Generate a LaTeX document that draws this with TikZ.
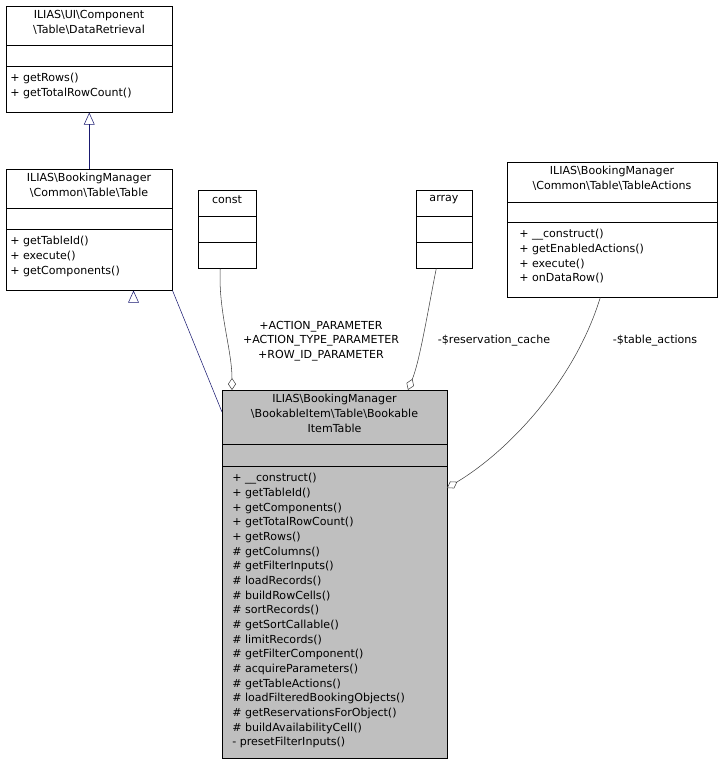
\documentclass[tikz,border=0pt]{standalone}
\usepackage{fontspec}
\setmainfont{DejaVu Sans}
\usetikzlibrary{arrows.meta}
\definecolor{dNavy}{HTML}{191970}
\definecolor{dGray}{HTML}{404040}
\begin{document}
\begin{tikzpicture}[x=0.75pt,y=-0.75pt,font=\fontsize{8.3}{11}\selectfont]
		\tikzstyle{BOX} = [draw, anchor=north west, inner sep=0pt]
		\tikzstyle{title} = [align=center, inner sep=0pt, anchor=north]
		\tikzstyle{ops} = [align=left, inner sep=0pt, anchor=north west]
		\tikzstyle{inherit} = [draw=dNavy, -{Triangle[open, length=9pt, width=8pt]}]
		\tikzstyle{member} = [draw=dGray, -{Diamond[open, length=9pt, width=6pt]}]
		\useasboundingbox (0,0) rectangle (722,765);

		% DataRetrieval
		\node[BOX, minimum width=166*0.75pt, minimum height=106*0.75pt] (dr) at (6,6) {};
		\node[title] (drT) at (89,10) {ILIAS\textbackslash UI\textbackslash Component\\\textbackslash Table\textbackslash DataRetrieval};
		\draw (6,45) -- (172,45) (6,66) -- (172,66);
		\node[ops] (drO) at (10,73) {+ getRows()\\+ getTotalRowCount()};

		% Table
		\node[BOX, minimum width=166*0.75pt, minimum height=121*0.75pt] (tb) at (6,169) {};
		\node[title] (tbT) at (89,173) {ILIAS\textbackslash BookingManager\\\textbackslash Common\textbackslash Table\textbackslash Table};
		\draw (6,208) -- (172,208) (6,229) -- (172,229);
		\node[ops] (tbO) at (10,236) {+ getTableId()\\+ execute()\\+ getComponents()};

		% const
		\node[BOX, minimum width=58*0.75pt, minimum height=78*0.75pt] (cst) at (198,190) {};
		\node[title] (cstT) at (227,195) {const};
		\draw (198,216) -- (256,216) (198,242) -- (256,242);

		% array
		\node[BOX, minimum width=56*0.75pt, minimum height=78*0.75pt] (arr) at (416,190) {};
		\node[title] (arrT) at (444,195) {array};
		\draw (416,216) -- (472,216) (416,242) -- (472,242);

		% TableActions
		\node[BOX, minimum width=210*0.75pt, minimum height=135*0.75pt] (ta) at (507,162) {};
		\node[title] (taT) at (612,166) {ILIAS\textbackslash BookingManager\\\textbackslash Common\textbackslash Table\textbackslash TableActions};
		\draw (507,202) -- (717,202) (507,222) -- (717,222);
		\node[ops] (taO) at (519,229) {+ \_\_construct()\\+ getEnabledActions()\\+ execute()\\+ onDataRow()};

		% BookableItemTable
		\node[BOX, fill=black!25, minimum width=225*0.75pt, minimum height=368*0.75pt] (bit) at (222,390) {};
		\node[title] (bitT) at (334.5,394) {ILIAS\textbackslash BookingManager\\\textbackslash BookableItem\textbackslash Table\textbackslash Bookable\\ItemTable};
		\draw (222,444) -- (447,444) (222,466) -- (447,466);
		\node[ops] (bitO) at (232,473) {+ \_\_construct()\\+ getTableId()\\+ getComponents()\\+ getTotalRowCount()\\+ getRows()\\\# getColumns()\\\# getFilterInputs()\\\# loadRecords()\\\# buildRowCells()\\\# sortRecords()\\\# getSortCallable()\\\# limitRecords()\\\# getFilterComponent()\\\# acquireParameters()\\\# getTableActions()\\\# loadFilteredBookingObjects()\\\# getReservationsForObject()\\\# buildAvailabilityCell()\\- presetFilterInputs()};

		% relations
		\draw[inherit] (tb.north) -- (dr.south);
		\draw[inherit] (bit.north west) ++(0,22) coordinate (bitIn) (bitIn) -- (tb.south east) ++(-39,0) coordinate (tbIn);
		\draw[member] (cst.south) ++(-7,0) coordinate (cstOut) (cstOut) .. controls (218,310) and (232,350) .. (232,390);
		\draw[member] (arr.south) ++(-8,0) coordinate (arrOut) (arrOut) .. controls (428,310) and (420,360) .. (408,390);
		\draw[member] (ta.south) ++(-12,0) coordinate (taOut) (taOut) .. controls (575,380) and (510,450) .. (447,488);
		\node[align=center, inner sep=0pt] (lc) at (321,341) {+ACTION\_PARAMETER\\+ACTION\_TYPE\_PARAMETER\\+ROW\_ID\_PARAMETER};
		\node[inner sep=0pt] (la) at (494,341) {-\$reservation\_cache};
		\node[inner sep=0pt] (lt) at (655,341) {-\$table\_actions};
\end{tikzpicture}
\end{document}
